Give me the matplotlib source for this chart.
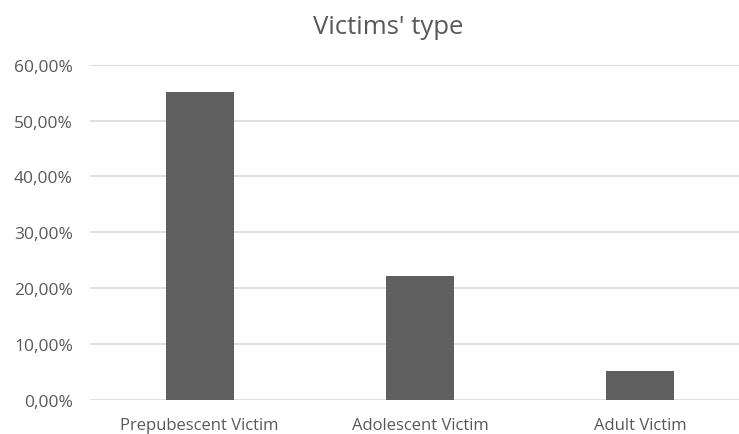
import matplotlib
matplotlib.use("Agg")
import matplotlib.pyplot as plt
from matplotlib.ticker import FuncFormatter, MultipleLocator

categories = ["Prepubescent Victim", "Adolescent Victim", "Adult Victim"]
values = [55.2, 22.1, 5.2]
title = "Victims' type"

plt.rcParams['font.family'] = ['Open Sans', 'DejaVu Sans']

fig = plt.figure(figsize=(7.39, 4.35), dpi=100)
W, H = 739, 435
left, right = 89.5, 750.5
bottom_px, top_px = 400.7, 65.7
ax = fig.add_axes([left / W, 1 - bottom_px / H, (right - left) / W, (bottom_px - top_px) / H])

x = range(len(categories))
ax.bar(x, values, width=0.31, color="#5f5f5f", zorder=3)
ax.set_xlim(-0.5, len(categories) - 0.5)
ax.set_ylim(0, 60)
ax.yaxis.set_major_locator(MultipleLocator(10))
ax.yaxis.set_major_formatter(FuncFormatter(lambda v, p: f"{v:.2f}".replace(".", ",") + "%"))
ax.grid(axis="y", color="#d9d9d9", linewidth=1.2, zorder=0)
for s in ax.spines.values():
    s.set_visible(False)
ax.tick_params(axis="both", length=0, labelcolor="#595959")
ax.tick_params(axis="y", pad=12, labelsize=12.5)
ax.tick_params(axis="x", pad=12.5, labelsize=12)
ax.set_xticks(list(x))
ax.set_xticklabels(categories)
fig.text(388 / W, 1 - 27 / H, title, ha="center", va="center", fontsize=18.5, color="#595959")

fig.savefig("out.png", dpi=100)
